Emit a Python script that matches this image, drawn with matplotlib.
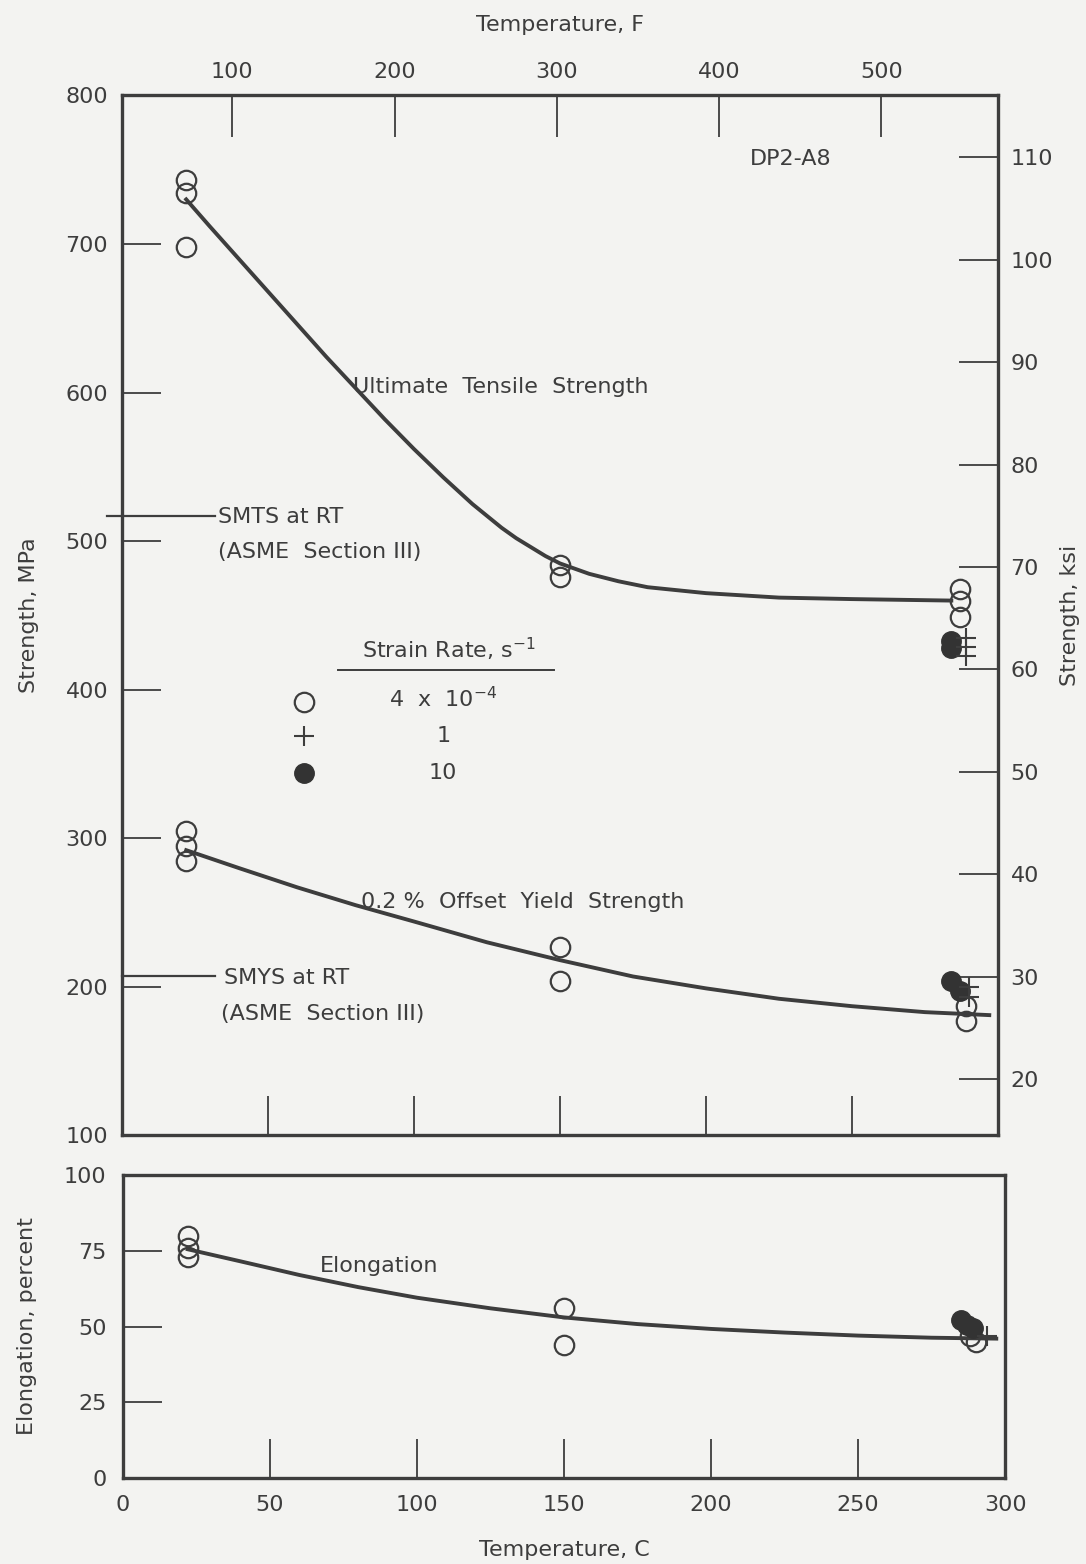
import numpy as np
import matplotlib
matplotlib.use("Agg")
import matplotlib.pyplot as plt

plt.rcParams['font.family'] = ['DejaVu Sans']
INK = '#3d3d3d'
BG = '#f3f3f1'

# --- strength data, temperature in C, strength in MPa ---
uts_rt_T = [22, 22, 22]
uts_rt = [743, 734, 698]
uts_150_T = [150, 150]
uts_150 = [484, 476]
uts_288_T = [287, 287, 287]
uts_288 = [468, 460, 449]
uts_288_fast_T = [284, 284]
uts_288_fast = [433, 428]
uts_288_mid_T = [289, 289, 289]
uts_288_mid = [435, 429, 423]

ys_rt_T = [22, 22, 22]
ys_rt = [305, 295, 285]
ys_150_T = [150, 150]
ys_150 = [227, 204]
ys_288_T = [289, 289]
ys_288 = [187, 177]
ys_288_fast_T = [284, 287]
ys_288_fast = [204, 197]
ys_288_mid_T = [290, 290]
ys_288_mid = [200, 193]

# fitted curves
uts_curve_T = [22, 30, 40, 50, 60, 70, 80, 90, 100, 110, 115, 120, 125, 130,
               135, 140, 145, 150, 160, 170, 180, 190, 200, 225, 250, 284]
uts_curve = [730, 712, 690, 668, 646, 624, 603, 582, 562, 543, 534, 525, 517,
             509, 502, 496, 490, 485, 478, 473, 469, 467, 465, 462, 461, 460]
ys_curve_T = [22, 40, 60, 80, 100, 125, 150, 175, 200, 225, 250, 275, 297]
ys_curve = [292, 280, 267, 255, 244, 230, 218, 207, 199, 192, 187, 183, 181]

smts = 517
smys = 207

# --- elongation data, percent ---
el_rt_T = [22, 22, 22]
el_rt = [80, 76, 73]
el_150_T = [150, 150]
el_150 = [56, 44]
el_288_T = [288, 290]
el_288 = [47, 45]
el_288_fast_T = [285, 287, 289]
el_288_fast = [52, 50.5, 49.5]
el_288_mid_T = [294]
el_288_mid = [47]
el_curve_T = [22, 40, 60, 80, 100, 125, 150, 175, 200, 225, 250, 275, 297]
el_curve = [75.5, 71.5, 67, 63, 59.5, 56, 53, 50.8, 49.2, 48, 47, 46.3, 46]

fig = plt.figure(figsize=(10.86, 15.64), dpi=100, facecolor=BG)
ax = fig.add_axes([0.1123, 0.2740, 0.8067, 0.6650], facecolor=BG)
ax2 = fig.add_axes([0.1133, 0.0550, 0.8122, 0.1937], facecolor=BG)

open_kw = dict(linestyle='none', marker='o', markersize=14, mfc='none',
               mec=INK, mew=1.6, zorder=4)
fill_kw = dict(linestyle='none', marker='o', markersize=14, mfc='#333333',
               mec='#333333', zorder=5)
plus_kw = dict(linestyle='none', marker='+', markersize=14, mec=INK,
               mew=1.5, zorder=5)

# upper panel: strength
ax.plot(uts_curve_T, uts_curve, color=INK, lw=2.8, zorder=3)
ax.plot(ys_curve_T, ys_curve, color=INK, lw=2.8, zorder=3)
for T, v in [(uts_rt_T, uts_rt), (uts_150_T, uts_150), (uts_288_T, uts_288),
             (ys_rt_T, ys_rt), (ys_150_T, ys_150), (ys_288_T, ys_288)]:
    ax.plot(T, v, **open_kw)
ax.plot(uts_288_fast_T, uts_288_fast, **fill_kw)
ax.plot(ys_288_fast_T, ys_288_fast, **fill_kw)
ax.plot(uts_288_mid_T, uts_288_mid, **plus_kw)
ax.plot(ys_288_mid_T, ys_288_mid, **plus_kw)

# code minimums at room temperature
ax.plot([-5, 32], [smts, smts], color=INK, lw=1.6, clip_on=False)
ax.plot([0, 32], [smys, smys], color=INK, lw=1.6, clip_on=False)
ax.text(33, smts - 1, 'SMTS at RT', color=INK, fontsize=16, va='center')
ax.text(33, smts - 24, '(ASME  Section III)', color=INK, fontsize=16, va='center')
ax.text(35, smys - 1, 'SMYS at RT', color=INK, fontsize=16, va='center')
ax.text(34, smys - 25, '(ASME  Section III)', color=INK, fontsize=16, va='center')

ax.text(79, 604, 'Ultimate  Tensile  Strength', color=INK, fontsize=16, va='center')
ax.text(82, 257, '0.2 %  Offset  Yield  Strength', color=INK, fontsize=16, va='center')
ax.text(229, 757, 'DP2-A8', color=INK, fontsize=16, ha='center', va='center')

# strain-rate key
ax.text(112, 427, r'Strain Rate, s$^{-1}$', color=INK, fontsize=16,
        ha='center', va='center')
ax.plot([74, 148], [413, 413], color=INK, lw=1.4)
ax.plot([62.5], [392], **open_kw)
ax.plot([62.5], [369], **plus_kw)
ax.plot([62.5], [344], **fill_kw)
ax.text(110, 394, r'4  x  10$^{-4}$', color=INK, fontsize=16, ha='center', va='center')
ax.text(110, 369, '1', color=INK, fontsize=16, ha='center', va='center')
ax.text(110, 344, '10', color=INK, fontsize=16, ha='center', va='center')

ax.set_xlim(0, 300)
ax.set_ylim(100, 800)
ax.set_xticks([50, 100, 150, 200, 250])
ax.set_xticklabels([])
ax.set_yticks(np.arange(100, 801, 100))
ax.tick_params(axis='both', direction='in', length=28, width=1.3, color=INK,
               labelcolor=INK, labelsize=16, pad=10)
ax.set_ylabel('Strength, MPa', color=INK, fontsize=16, labelpad=19)
for s in ax.spines.values():
    s.set_linewidth(2.4)
    s.set_color(INK)

# Fahrenheit scale on top
f_ticks = [100, 200, 300, 400, 500]
top = ax.secondary_xaxis('top', functions=(lambda c: c * 1.8 + 32,
                                           lambda f: (f - 32) / 1.8))
top.set_xticks(f_ticks)
top.tick_params(direction='in', length=30, width=1.3, color=INK,
                labelcolor=INK, labelsize=16, pad=10)
top.set_xlabel('Temperature, F', color=INK, fontsize=16, labelpad=22)
top.spines['top'].set_visible(False)

# ksi scale on the right
ksi_ticks = np.arange(20, 111, 10)
right = ax.secondary_yaxis('right', functions=(lambda m: m / 6.894757,
                                               lambda k: k * 6.894757))
right.set_yticks(ksi_ticks)
right.tick_params(direction='in', length=28, width=1.3, color=INK,
                  labelcolor=INK, labelsize=16, pad=9)
right.set_ylabel('Strength, ksi', color=INK, fontsize=16, labelpad=5)
right.spines['right'].set_visible(False)

# lower panel: elongation
ax2.plot(el_curve_T, el_curve, color=INK, lw=2.8, zorder=3)
for T, v in [(el_rt_T, el_rt), (el_150_T, el_150), (el_288_T, el_288)]:
    ax2.plot(T, v, **open_kw)
ax2.plot(el_288_fast_T, el_288_fast, **fill_kw)
ax2.plot(el_288_mid_T, el_288_mid, **plus_kw)
ax2.text(67, 70, 'Elongation', color=INK, fontsize=16, va='center')

ax2.set_xlim(0, 300)
ax2.set_ylim(0, 100)
ax2.set_xticks(np.arange(0, 301, 50))
ax2.set_yticks([0, 25, 50, 75, 100])
ax2.tick_params(axis='both', direction='in', length=28, width=1.3, color=INK,
                labelcolor=INK, labelsize=16, pad=12)
ax2.set_xlabel('Temperature, C', color=INK, fontsize=16, labelpad=18)
ax2.set_ylabel('Elongation, percent', color=INK, fontsize=16, labelpad=19)
for s in ax2.spines.values():
    s.set_linewidth(2.4)
    s.set_color(INK)

fig.savefig('out.png', dpi=100, facecolor=BG)
